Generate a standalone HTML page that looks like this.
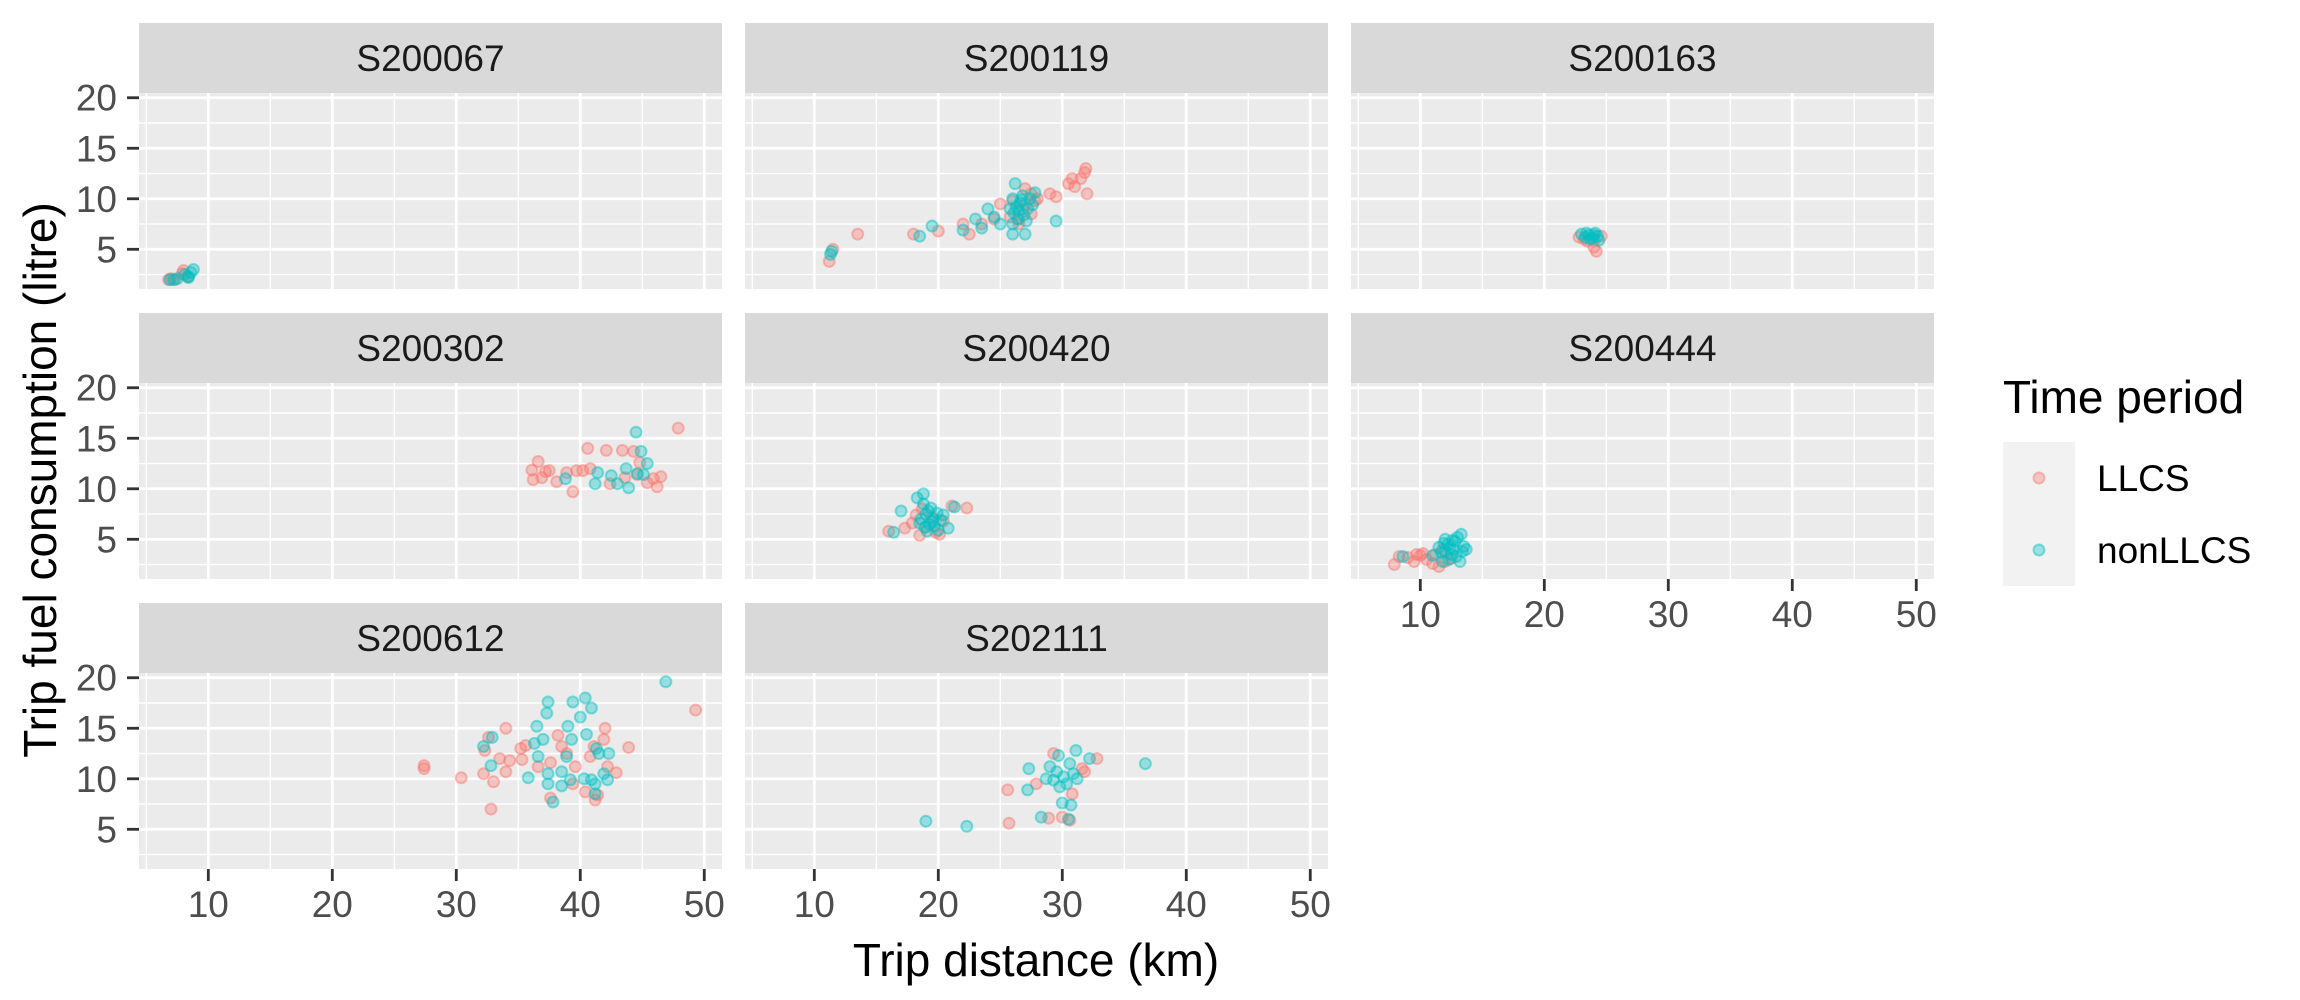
<!DOCTYPE html>
<html><head><meta charset="utf-8">
<style>
html,body{margin:0;padding:0;background:#fff;}
svg{display:block;font-family:"Liberation Sans",sans-serif;}
</style></head>
<body>
<svg id="chart" width="2300" height="1000" viewBox="0 0 2300 1000" xmlns="http://www.w3.org/2000/svg">
<rect width="2300" height="1000" fill="#fff"/>
<g id="panels"></g>
<text x="1036" y="976" font-size="46" text-anchor="middle" fill="#000">Trip distance (km)</text>
<text transform="translate(56,480) rotate(-90)" font-size="46" text-anchor="middle" fill="#000">Trip fuel consumption (litre)</text>
<g>
<text x="2003" y="413" font-size="46" fill="#000">Time period</text>
<rect x="2003" y="442" width="72" height="144" fill="#F2F2F2"/>
<circle cx="2039" cy="478" r="5.5" fill="#F8766D" fill-opacity="0.35" stroke="#F8766D" stroke-opacity="0.45" stroke-width="2"/>
<circle cx="2039" cy="550" r="5.5" fill="#00BFC4" fill-opacity="0.35" stroke="#00BFC4" stroke-opacity="0.45" stroke-width="2"/>
<text x="2097" y="491" font-size="37" fill="#000">LLCS</text>
<text x="2097" y="563" font-size="37" fill="#000">nonLLCS</text>
</g>
</svg>
<script>
const facetNames = ["S200067","S200119","S200163","S200302","S200420","S200444","S200612","S202111"];
const xTicks = [10,20,30,40,50];
const yTicks = [5,10,15,20];
const llcs_S200067 = [[6.8,2.0],[7.0,2.1],[7.3,2.0],[7.9,2.6],[8.0,2.9],[8.3,2.3]];
const non_S200067 = [[6.9,2.0],[7.2,2.0],[7.5,2.1],[8.1,2.5],[8.4,2.3],[8.6,2.7],[8.8,3.0],[8.4,2.2]];
const llcs_S200119 = [[11.2,3.8],[11.5,5.0],[13.5,6.5],[18,6.5],[20,6.8],[22,7.5],[22.5,6.5],[23.5,7.5],[24.5,8.0],[25,9.5],[26,9.8],[27,9.5],[27.5,10.5],[28,10],[27.5,8.5],[26.5,8],[26.5,7.5],[29,10.5],[29.5,10.2],[30.5,11.5],[30.8,12],[31,11.2],[31.5,12],[31.8,12.6],[32,10.5],[31.9,13],[27,11],[26.8,9],[25.8,8.2],[27.8,9.8]];
const non_S200119 = [[11.3,4.5],[11.4,4.8],[18.5,6.3],[19.5,7.3],[22,6.9],[23,8],[23.5,7.1],[24,9],[24.5,8.2],[25,7.5],[26,10],[26,7.5],[26.5,8.8],[26,6.5],[27,6.5],[26.2,11.5],[29.5,7.8],[26.3,9.2],[26.6,9.6],[26.9,8.4],[27.2,9.0],[27.4,10.0],[26.1,8.6],[26.8,10.3],[27.6,9.4],[25.8,9.0],[26.4,8.0],[27.1,7.8],[27.8,10.6],[26.7,9.9]];
const llcs_S200163 = [[22.8,6.2],[23.5,5.8],[24.0,5.2],[24.2,4.8],[24.6,6.3],[23.2,6.0],[24.0,5.9]];
const non_S200163 = [[23.0,6.5],[23.3,6.2],[23.6,6.4],[23.9,6.1],[24.1,6.6],[24.3,6.3],[23.7,6.0],[24.4,5.9],[23.4,6.6],[24.0,6.4]];
const llcs_S200302 = [[47.9,16.0],[40.6,14.0],[42.1,13.8],[43.4,13.8],[44.3,13.7],[36.6,12.7],[36.1,11.85],[37.2,11.7],[37.5,11.8],[39.7,11.8],[40.2,11.8],[40.8,12.0],[36.2,10.9],[38.1,10.7],[39.4,9.7],[42.4,10.5],[43.6,11.1],[44.6,11.4],[45.4,10.6],[46.2,10.2],[46.5,11.2],[45.9,11.0],[44.8,12.6],[38.9,11.6],[36.9,11.1]];
const non_S200302 = [[44.5,15.6],[44.9,13.7],[45.4,12.5],[43.7,12.0],[44.6,11.5],[41.4,11.6],[41.2,10.5],[42.5,11.3],[43.0,10.5],[43.9,10.1],[38.8,11.0],[45.1,11.4]];
const llcs_S200420 = [[22.3,8.1],[16.0,5.8],[17.3,6.1],[18.5,5.4],[21.1,8.3],[18.2,7.4],[19.0,6.2],[19.8,5.7],[20.4,6.8],[18.7,8.0],[19.5,7.2],[20.1,5.5],[17.9,6.6]];
const non_S200420 = [[18.8,9.5],[18.3,9.1],[17.0,7.8],[16.4,5.7],[21.3,8.2],[20.8,6.1],[18.6,7.0],[19.0,7.5],[19.3,6.5],[19.6,7.0],[19.9,7.6],[20.2,6.9],[18.9,6.2],[19.4,8.1],[20.0,5.9],[19.2,7.8],[18.5,6.6],[19.7,6.3],[20.4,7.4],[19.1,5.8],[18.8,8.5],[19.5,6.8]];
const llcs_S200444 = [[7.9,2.5],[8.3,3.3],[9,3.2],[9.5,2.8],[10,3.4],[10.5,3.0],[11,2.6],[11.2,3.5],[11.5,2.3],[10.2,3.6],[9.7,3.5],[12,2.8],[12.5,3.1],[11.8,4.0]];
const non_S200444 = [[8.6,3.3],[11,3.4],[11.5,4.2],[12,3.8],[12.2,4.5],[12.5,3.5],[12.8,4.8],[13,5.2],[13.3,5.5],[13.5,4.3],[13.7,4.0],[12.3,3.0],[11.8,2.8],[13.2,2.8],[12.7,4.0],[12.0,5.0],[11.7,3.7],[12.9,3.3],[13.4,3.8],[12.4,4.2],[11.9,4.6],[12.6,4.9]];
const llcs_S200612 = [[49.3,16.8],[27.4,11.3],[27.4,11.0],[30.4,10.1],[32.8,7.0],[34.0,15.0],[32.6,14.1],[32.3,12.8],[33.5,12.0],[34.3,11.8],[34.0,10.7],[32.2,10.5],[33.0,9.7],[35.2,13.0],[35.6,13.3],[35.3,11.9],[36.6,11.2],[37.6,11.6],[38.2,14.3],[38.5,13.2],[38.9,12.5],[39.6,11.2],[39.4,9.5],[40.4,8.7],[41.2,7.9],[41.4,8.4],[42.0,15.0],[41.9,13.9],[41.1,13.2],[42.9,10.6],[43.9,13.1],[42.2,11.2],[37.6,8.1],[40.8,12.2]];
const non_S200612 = [[46.9,19.6],[37.4,17.6],[37.3,16.5],[40.4,18.0],[39.4,17.6],[40.9,17.0],[40.0,16.1],[36.5,15.2],[39.0,15.2],[40.5,14.4],[32.9,14.1],[32.2,13.2],[37.0,13.9],[36.3,13.5],[39.3,13.9],[42.3,12.5],[41.3,13.0],[36.6,12.2],[38.9,12.2],[32.8,11.3],[35.8,10.1],[37.4,10.5],[38.5,10.7],[39.2,9.9],[40.3,10.0],[40.9,9.9],[41.9,10.5],[41.2,9.5],[37.4,9.5],[38.5,9.3],[37.8,7.7],[41.2,8.5],[42.2,9.9],[41.5,12.5]];
const llcs_S202111 = [[25.6,8.9],[25.7,5.6],[27.9,9.5],[32.8,12.0],[31.6,11.0],[28.9,6.1],[30.0,6.2],[30.6,5.9],[30.8,8.5],[29.3,12.5],[31.8,10.7]];
const non_S202111 = [[36.7,11.5],[27.3,11.0],[27.2,8.9],[31.1,12.8],[32.2,12.0],[29.7,12.3],[30.0,7.6],[30.7,7.4],[28.3,6.2],[30.5,6.0],[19.0,5.8],[22.3,5.3],[29.0,11.2],[29.55,10.7],[30.1,10.2],[29.3,9.87],[30.35,9.5],[30.9,10.5],[29.8,9.2],[28.7,10.0],[31.2,10.0],[30.6,11.5]];
const llcsSeries = [llcs_S200067,llcs_S200119,llcs_S200163,llcs_S200302,llcs_S200420,llcs_S200444,llcs_S200612,llcs_S202111];
const nonSeries = [non_S200067,non_S200119,non_S200163,non_S200302,non_S200420,non_S200444,non_S200612,non_S202111];

const NS = "http://www.w3.org/2000/svg";
const colLeft = [139,745,1351], rowTop = [23,313,603];
const PW = 583, SH = 70, PH = 196;
const X0 = 4.41, X1 = 51.43, Y0 = 1.07, Y1 = 20.47;
function xs(c, v){ return colLeft[c] + (v - X0) / (X1 - X0) * PW; }
function ys(r, v){ return rowTop[r] + SH + PH - (v - Y0) / (Y1 - Y0) * PH; }
function mk(tag, attrs, parent){ const e = document.createElementNS(NS, tag); for (const k in attrs) e.setAttribute(k, attrs[k]); parent.appendChild(e); return e; }
const root = document.getElementById("panels");

facetNames.forEach((name, i) => {
  const r = Math.floor(i / 3), c = i % 3;
  const g = mk("g", {}, root);
  
  
  const strip = mk("rect", {x: colLeft[c], y: rowTop[r], width: PW, height: SH, fill: "#D9D9D9"}, g);
  
  
  const st = mk("text", {x: colLeft[c] + PW / 2, y: rowTop[r] + SH / 2 + 13, "font-size": 37, "text-anchor": "middle", fill: "#1A1A1A"}, g);
  st.textContent = name;
  
  
  const pt = rowTop[r] + SH;
  const bg = mk("rect", {x: colLeft[c], y: pt, width: PW, height: PH, fill: "#EBEBEB"}, g);
  
  
  [5,15,25,35,45].forEach(v => { const l = mk("line", {x1: xs(c, v), x2: xs(c, v), y1: pt, y2: pt + PH, stroke: "#fff", "stroke-width": 1.4}, g);   });
  [2.5,7.5,12.5,17.5].forEach(v => { const l = mk("line", {x1: colLeft[c], x2: colLeft[c] + PW, y1: ys(r, v), y2: ys(r, v), stroke: "#fff", "stroke-width": 1.4}, g);   });
  xTicks.forEach(v => { const l = mk("line", {x1: xs(c, v), x2: xs(c, v), y1: pt, y2: pt + PH, stroke: "#fff", "stroke-width": 2.8}, g);   });
  yTicks.forEach(v => { const l = mk("line", {x1: colLeft[c], x2: colLeft[c] + PW, y1: ys(r, v), y2: ys(r, v), stroke: "#fff", "stroke-width": 2.8}, g);   });
  [[llcsSeries[i], "#F8766D", "llcs"], [nonSeries[i], "#00BFC4", "nonllcs"]].forEach(([data, col, nm]) => {
    data.forEach(d => {
      const p = mk("circle", {cx: xs(c, d[0]), cy: ys(r, d[1]), r: 5.5, fill: col, "fill-opacity": 0.35, stroke: col, "stroke-opacity": 0.45, "stroke-width": 2}, g);
      
      
    });
  });
  if (c === 0) {
    yTicks.forEach(v => {
      const t = mk("line", {x1: colLeft[c] - 12, x2: colLeft[c], y1: ys(r, v), y2: ys(r, v), stroke: "#333", "stroke-width": 2.8}, g);
      
      
      const lb = mk("text", {x: colLeft[c] - 22, y: ys(r, v) + 13, "font-size": 37, "text-anchor": "end", fill: "#4D4D4D"}, g);
      lb.textContent = v;
      
      
    });
  }
  if (r === 2 || i === 5) {
    xTicks.forEach(v => {
      const t = mk("line", {x1: xs(c, v), x2: xs(c, v), y1: pt + PH, y2: pt + PH + 12, stroke: "#333", "stroke-width": 2.8}, g);
      
      
      const lb = mk("text", {x: xs(c, v), y: pt + PH + 48, "font-size": 37, "text-anchor": "middle", fill: "#4D4D4D"}, g);
      lb.textContent = v;
      
      
    });
  }
});
</script>
</body></html>
